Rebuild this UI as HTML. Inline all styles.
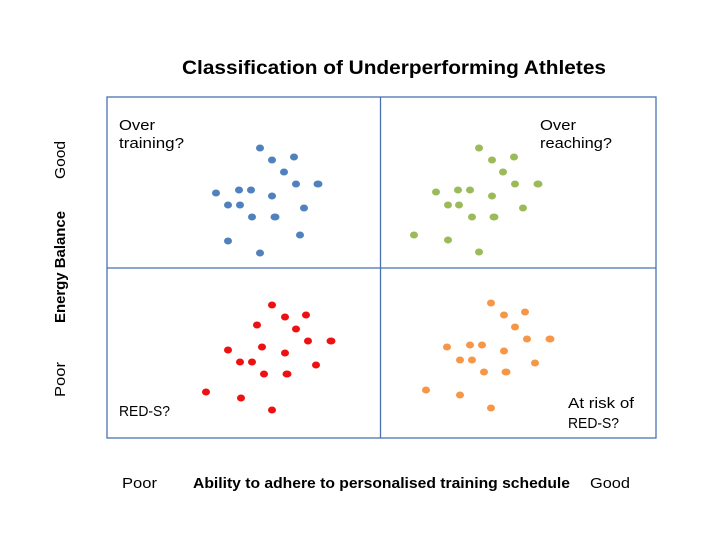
<!DOCTYPE html>
<html><head><meta charset="utf-8"><style>html,body{margin:0;padding:0;background:#fff}svg{display:block}</style></head>
<body>
<svg width="720" height="540" viewBox="0 0 720 540" xmlns="http://www.w3.org/2000/svg" font-family="Liberation Sans, sans-serif">
<rect width="720" height="540" fill="#fff"/>
<text x="182" y="74" font-size="19" font-weight="bold" textLength="424" lengthAdjust="spacingAndGlyphs">Classification of Underperforming Athletes</text>
<g fill="none" stroke="#4a72b0" stroke-width="1.3">
<rect x="107" y="97" width="549" height="341"/>
<line x1="380.5" y1="97" x2="380.5" y2="438"/>
<line x1="107" y1="268" x2="656" y2="268"/>
</g>
<g font-size="15" fill="#000">
<text x="119" y="130" textLength="36" lengthAdjust="spacingAndGlyphs">Over</text>
<text x="119" y="148" textLength="65" lengthAdjust="spacingAndGlyphs">training?</text>
<text x="540" y="130" textLength="36" lengthAdjust="spacingAndGlyphs">Over</text>
<text x="540" y="148" textLength="72" lengthAdjust="spacingAndGlyphs">reaching?</text>
<text x="119" y="416" textLength="51" lengthAdjust="spacingAndGlyphs">RED-S?</text>
<text x="568" y="408" textLength="66" lengthAdjust="spacingAndGlyphs">At risk of</text>
<text x="568" y="428" textLength="51" lengthAdjust="spacingAndGlyphs">RED-S?</text>
<text x="122" y="488" textLength="35" lengthAdjust="spacingAndGlyphs">Poor</text>
<text x="590" y="488" textLength="40" lengthAdjust="spacingAndGlyphs">Good</text>
<text x="193" y="488" font-weight="bold" textLength="377" lengthAdjust="spacingAndGlyphs">Ability to adhere to personalised training schedule</text>
<text transform="translate(65,179) rotate(-90)" textLength="38" lengthAdjust="spacingAndGlyphs">Good</text>
<text transform="translate(65,397) rotate(-90)" textLength="35" lengthAdjust="spacingAndGlyphs">Poor</text>
<text transform="translate(65,323) rotate(-90)" font-weight="bold" textLength="112" lengthAdjust="spacingAndGlyphs">Energy Balance</text>
</g>
<g fill="#4f81bd">
<ellipse cx="260" cy="148" rx="4" ry="3.5"/><ellipse cx="272" cy="160" rx="4" ry="3.5"/><ellipse cx="294" cy="157" rx="4" ry="3.5"/><ellipse cx="284" cy="172" rx="4" ry="3.5"/><ellipse cx="296" cy="184" rx="4" ry="3.5"/><ellipse cx="318" cy="184" rx="4.5" ry="3.5"/><ellipse cx="216" cy="193" rx="4" ry="3.5"/><ellipse cx="239" cy="190" rx="4" ry="3.5"/><ellipse cx="251" cy="190" rx="4" ry="3.5"/><ellipse cx="272" cy="196" rx="4" ry="3.5"/><ellipse cx="228" cy="205" rx="4" ry="3.5"/><ellipse cx="240" cy="205" rx="4" ry="3.5"/><ellipse cx="304" cy="208" rx="4" ry="3.5"/><ellipse cx="252" cy="217" rx="4" ry="3.5"/><ellipse cx="275" cy="217" rx="4.5" ry="3.5"/><ellipse cx="300" cy="235" rx="4" ry="3.5"/><ellipse cx="228" cy="241" rx="4" ry="3.5"/><ellipse cx="260" cy="253" rx="4" ry="3.5"/>
</g>
<g fill="#9bbb59">
<ellipse cx="479" cy="148" rx="4" ry="3.5"/><ellipse cx="492" cy="160" rx="4" ry="3.5"/><ellipse cx="514" cy="157" rx="4" ry="3.5"/><ellipse cx="503" cy="172" rx="4" ry="3.5"/><ellipse cx="515" cy="184" rx="4" ry="3.5"/><ellipse cx="538" cy="184" rx="4.5" ry="3.5"/><ellipse cx="436" cy="192" rx="4" ry="3.5"/><ellipse cx="458" cy="190" rx="4" ry="3.5"/><ellipse cx="470" cy="190" rx="4" ry="3.5"/><ellipse cx="492" cy="196" rx="4" ry="3.5"/><ellipse cx="448" cy="205" rx="4" ry="3.5"/><ellipse cx="459" cy="205" rx="4" ry="3.5"/><ellipse cx="523" cy="208" rx="4" ry="3.5"/><ellipse cx="472" cy="217" rx="4" ry="3.5"/><ellipse cx="494" cy="217" rx="4.5" ry="3.5"/><ellipse cx="414" cy="235" rx="4" ry="3.5"/><ellipse cx="448" cy="240" rx="4" ry="3.5"/><ellipse cx="479" cy="252" rx="4" ry="3.5"/>
</g>
<g fill="#ee1111">
<ellipse cx="272" cy="305" rx="4" ry="3.5"/><ellipse cx="285" cy="317" rx="4" ry="3.5"/><ellipse cx="306" cy="315" rx="4" ry="3.5"/><ellipse cx="257" cy="325" rx="4" ry="3.5"/><ellipse cx="296" cy="329" rx="4" ry="3.5"/><ellipse cx="308" cy="341" rx="4" ry="3.5"/><ellipse cx="331" cy="341" rx="4.5" ry="3.5"/><ellipse cx="228" cy="350" rx="4" ry="3.5"/><ellipse cx="262" cy="347" rx="4" ry="3.5"/><ellipse cx="285" cy="353" rx="4" ry="3.5"/><ellipse cx="240" cy="362" rx="4" ry="3.5"/><ellipse cx="252" cy="362" rx="4" ry="3.5"/><ellipse cx="316" cy="365" rx="4" ry="3.5"/><ellipse cx="264" cy="374" rx="4" ry="3.5"/><ellipse cx="287" cy="374" rx="4.5" ry="3.5"/><ellipse cx="206" cy="392" rx="4" ry="3.5"/><ellipse cx="241" cy="398" rx="4" ry="3.5"/><ellipse cx="272" cy="410" rx="4" ry="3.5"/>
</g>
<g fill="#f79646">
<ellipse cx="491" cy="303" rx="4" ry="3.5"/><ellipse cx="504" cy="315" rx="4" ry="3.5"/><ellipse cx="525" cy="312" rx="4" ry="3.5"/><ellipse cx="515" cy="327" rx="4" ry="3.5"/><ellipse cx="527" cy="339" rx="4" ry="3.5"/><ellipse cx="550" cy="339" rx="4.5" ry="3.5"/><ellipse cx="447" cy="347" rx="4" ry="3.5"/><ellipse cx="470" cy="345" rx="4" ry="3.5"/><ellipse cx="482" cy="345" rx="4" ry="3.5"/><ellipse cx="504" cy="351" rx="4" ry="3.5"/><ellipse cx="460" cy="360" rx="4" ry="3.5"/><ellipse cx="472" cy="360" rx="4" ry="3.5"/><ellipse cx="535" cy="363" rx="4" ry="3.5"/><ellipse cx="484" cy="372" rx="4" ry="3.5"/><ellipse cx="506" cy="372" rx="4.5" ry="3.5"/><ellipse cx="426" cy="390" rx="4" ry="3.5"/><ellipse cx="460" cy="395" rx="4" ry="3.5"/><ellipse cx="491" cy="408" rx="4" ry="3.5"/>
</g>
</svg>
</body></html>
